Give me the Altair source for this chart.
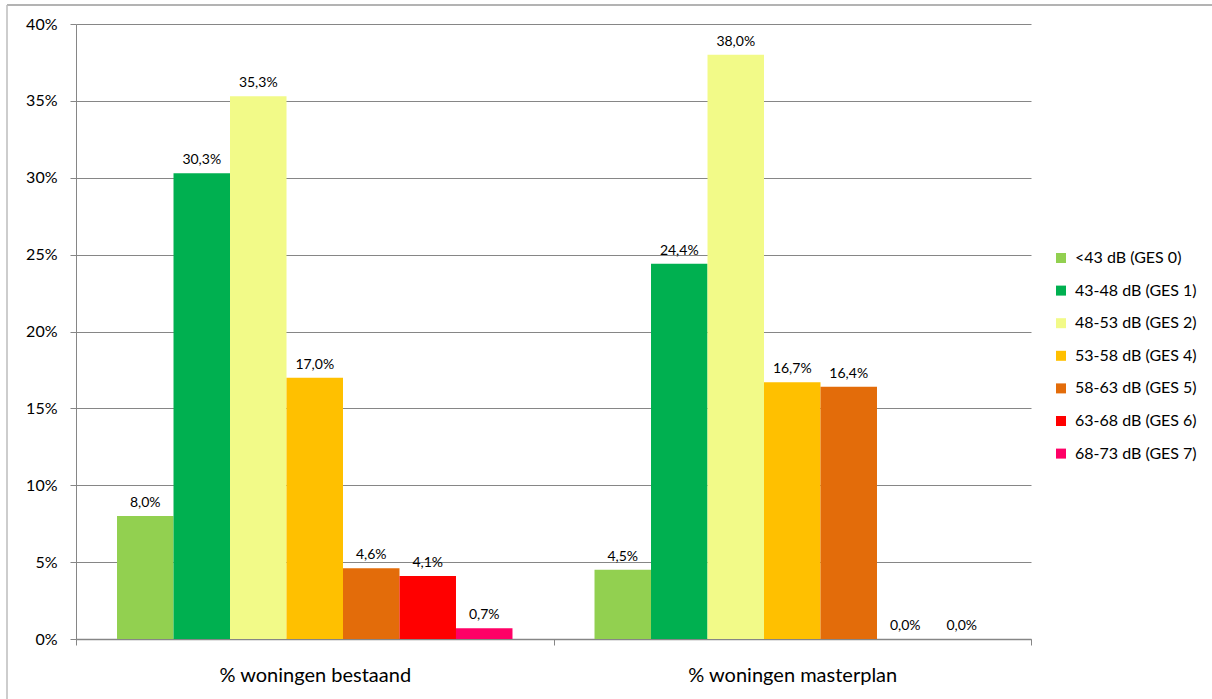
import altair as alt
import pandas as pd

# Noise classes and their colours
classes = [
    "<43 dB (GES 0)",
    "43-48 dB (GES 1)",
    "48-53 dB (GES 2)",
    "53-58 dB (GES 4)",
    "58-63 dB (GES 5)",
    "63-68 dB (GES 6)",
    "68-73 dB (GES 7)",
]
colors = ["#92D050", "#00B050", "#F2FA88", "#FFC000", "#E36C0A", "#FF0000", "#FF0066"]

groups = ["% woningen bestaand", "% woningen masterplan"]
bestaand = [8.0, 30.3, 35.3, 17.0, 4.6, 4.1, 0.7]
masterplan = [4.5, 24.4, 38.0, 16.7, 16.4, 0.0, 0.0]

rows = []
for g, vals in zip(groups, [bestaand, masterplan]):
    for c, v in zip(classes, vals):
        rows.append({"groep": g, "klasse": c, "waarde": v,
                     "label": f"{v:.1f}".replace(".", ",") + "%"})
df = pd.DataFrame(rows)

W, H = 955, 615
FONT = "Lato"
GRID = "#868686"

x_enc = alt.X("groep:N", sort=groups, title=None,
              scale=alt.Scale(paddingInner=0, paddingOuter=0),
              axis=alt.Axis(labelAngle=0, tickBand="extent", tickSize=6,
                            tickColor=GRID, domainColor=GRID, domainWidth=1.5,
                            labelFontSize=20, labelFont=FONT, labelColor="#000000",
                            labelPadding=20, labelLimit=0, grid=False))
xoff_enc = alt.XOffset("klasse:N", sort=classes,
                       scale=alt.Scale(paddingInner=0, paddingOuter=0.726))
y_enc = alt.Y("waarde:Q", title=None,
              scale=alt.Scale(domain=[0, 40], nice=False),
              axis=alt.Axis(values=[0, 5, 10, 15, 20, 25, 30, 35, 40],
                            labelExpr="datum.value + '%'",
                            gridColor=GRID, gridWidth=1, domainColor=GRID,
                            tickColor=GRID, tickSize=6, labelPadding=13,
                            labelFontSize=16, labelFont=FONT, labelColor="#000000"))

base = alt.Chart(df)

bars = base.mark_bar(size=56.5).encode(
    x=x_enc,
    xOffset=xoff_enc,
    y=y_enc,
    color=alt.Color("klasse:N", sort=classes,
                    scale=alt.Scale(domain=classes, range=colors),
                    legend=alt.Legend(title=None, orient="none", legendX=977, legendY=226,
                                      symbolType="square", symbolSize=100,
                                      symbolStrokeWidth=0, labelFont=FONT,
                                      labelFontSize=16, labelColor="#000000",
                                      rowPadding=16.6, labelOffset=6, labelLimit=0)),
)

labels = base.mark_text(font=FONT, fontSize=14, color="#000000",
                        baseline="alphabetic", dy=-9).encode(
    x=x_enc,
    xOffset=xoff_enc,
    y=y_enc,
    text="label:N",
)

frame = pd.DataFrame({"k": [0]})
top_border = alt.Chart(frame).mark_rule(color="#9a9a9a", strokeWidth=1.5).encode(
    x=alt.value(-69), x2=alt.value(1150), y=alt.value(-19))
left_border = alt.Chart(frame).mark_rule(color="#bdbdbd", strokeWidth=1.5).encode(
    y=alt.value(-19), y2=alt.value(700), x=alt.value(-69))

chart = alt.layer(bars, labels, top_border, left_border).properties(
    width=W, height=H,
    autosize=alt.AutoSizeParams(type="none"),
    padding={"left": 76, "top": 24, "right": 181, "bottom": 60},
    background="#ffffff",
).configure_view(strokeWidth=0)

chart.save("out.html", embed_options={"renderer": "svg", "actions": False})
